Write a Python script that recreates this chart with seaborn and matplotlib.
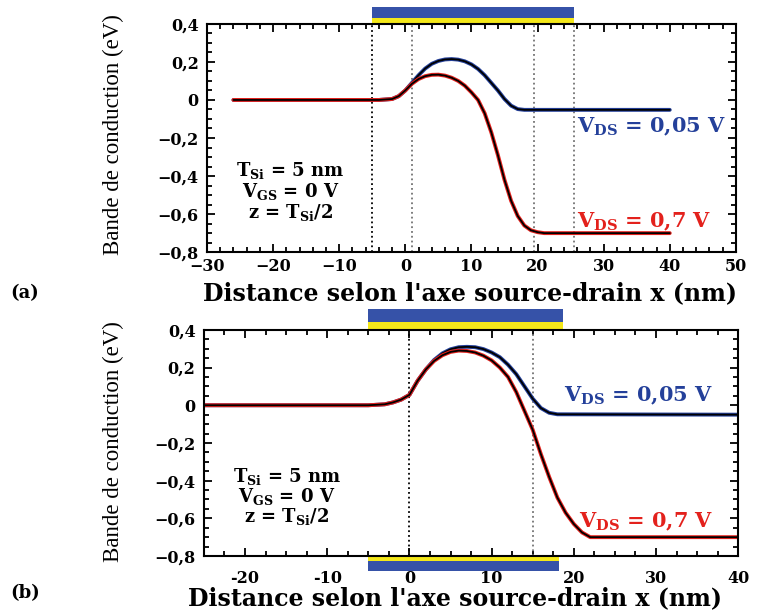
import numpy as np
import matplotlib
matplotlib.use("Agg")
import matplotlib.pyplot as plt
from matplotlib.patches import Rectangle
from matplotlib.ticker import MultipleLocator
import seaborn as sns

# panel (a) data
xa_low = [-26, -4, -2, -1, 0, 1, 2, 3, 4, 5, 6, 7, 8, 9, 10, 11, 12, 13, 14, 15, 16, 17, 18, 40]
ya_low = [0, 0, 0.005, 0.02, 0.05, 0.09, 0.13, 0.165, 0.19, 0.205, 0.213, 0.215, 0.212, 0.203,
          0.187, 0.163, 0.13, 0.09, 0.05, 0.005, -0.03, -0.048, -0.052, -0.052]
xa_high = [-26, -4, -2, -1, 0, 1, 2, 3, 4, 5, 6, 7, 8, 9, 10, 11, 12, 13, 14, 15, 16, 17, 18,
           19, 20, 21, 40]
ya_high = [0, 0, 0.005, 0.02, 0.05, 0.085, 0.11, 0.125, 0.132, 0.133, 0.128, 0.117, 0.1, 0.075,
           0.04, 0.0, -0.07, -0.17, -0.29, -0.42, -0.53, -0.61, -0.66, -0.685, -0.695, -0.70, -0.70]

# panel (b) data
xb_low = [-25, -5, -3, -2, -1, 0, 1, 2, 3, 4, 5, 6, 7, 8, 9, 10, 11, 12, 13, 14, 15, 16, 17, 18, 40]
yb_low = [0, 0, 0.005, 0.015, 0.03, 0.055, 0.13, 0.19, 0.24, 0.275, 0.297, 0.308, 0.31, 0.308,
          0.298, 0.28, 0.255, 0.215, 0.165, 0.1, 0.035, -0.015, -0.04, -0.048, -0.05]
xb_high = [-25, -5, -3, -2, -1, 0, 1, 2, 3, 4, 5, 6, 7, 8, 9, 10, 11, 12, 13, 14, 15, 16, 17, 18,
           19, 20, 21, 22, 40]
yb_high = [0, 0, 0.005, 0.015, 0.03, 0.055, 0.13, 0.19, 0.235, 0.265, 0.283, 0.29, 0.288, 0.28,
           0.263, 0.238, 0.2, 0.15, 0.07, -0.03, -0.13, -0.26, -0.38, -0.49, -0.57, -0.63, -0.675,
           -0.70, -0.70]

# ticks
yticks = [-0.8, -0.6, -0.4, -0.2, 0, 0.2, 0.4]
ytick_labels = ["\u22120,8", "\u22120,6", "\u22120,4", "\u22120,2", "0", "0,2", "0,4"]
xticks_a = [-30, -20, -10, 0, 10, 20, 30, 40, 50]
xtick_labels_a = ["\u221230", "\u221220", "\u221210", "0", "10", "20", "30", "40", "50"]
xticks_b = [-20, -10, 0, 10, 20, 30, 40]
xtick_labels_b = ["-20", "-10", "0", "10", "20", "30", "40"]

# gate regions and markers
gate_a = [-5, 25.5]
gate_b_top = [-5, 18.7]
gate_b_bot = [-5, 18.2]
vlines_a = [(-5, "black"), (1, "0.45"), (19.5, "0.45"), (25.5, "0.45")]
vlines_b = [(0, "black"), (15, "0.45")]

info_lines = [r"T$_{Si}$ = 5 nm", r"V$_{GS}$ = 0 V", r"z = T$_{Si}$/2"]
lbl_low = r"V$_{DS}$ = 0,05 V"
lbl_high = r"V$_{DS}$ = 0,7 V"

sns.set_style("ticks")
plt.rcParams["font.family"] = ["DejaVu Serif"]
plt.rcParams["text.color"] = "black"
plt.rcParams["axes.labelcolor"] = "black"
plt.rcParams["xtick.color"] = "black"
plt.rcParams["ytick.color"] = "black"
plt.rcParams["mathtext.fontset"] = "custom"
plt.rcParams["mathtext.rm"] = "DejaVu Serif:bold"
plt.rcParams["mathtext.it"] = "DejaVu Serif:bold"
plt.rcParams["mathtext.bf"] = "DejaVu Serif:bold"
plt.rcParams["mathtext.default"] = "rm"

BLUE = "#24409a"
RED = "#e3211c"
BAR_BLUE = "#3652a8"
BAR_YEL = "#f4e81a"

fig = plt.figure(figsize=(7.61, 6.12), dpi=100)
ax1 = fig.add_axes([0.272, 0.588, 0.695, 0.373])
ax2 = fig.add_axes([0.268, 0.0915, 0.702, 0.3695])


def style_axis(ax, xlim, xticks, xlabels, xminor, xpad):
    ax.set_xlim(*xlim)
    ax.set_ylim(-0.8, 0.4)
    ax.set_xticks(xticks)
    ax.set_xticklabels(xlabels)
    ax.set_yticks(yticks)
    ax.set_yticklabels(ytick_labels)
    ax.xaxis.set_minor_locator(MultipleLocator(xminor))
    ax.yaxis.set_minor_locator(MultipleLocator(0.05))
    ax.tick_params(which="both", direction="in", top=True, right=True, width=1.3,
                   colors="black", labelcolor="black")
    ax.tick_params(which="major", length=6)
    ax.tick_params(which="minor", length=3.5)
    ax.tick_params(axis="x", which="major", pad=xpad, labelsize=11.5)
    ax.tick_params(axis="y", which="major", pad=6, labelsize=11.5)
    for t in ax.get_xticklabels() + ax.get_yticklabels():
        t.set_fontweight("bold")
    for s in ax.spines.values():
        s.set_visible(True)
        s.set_linewidth(1.5)
        s.set_color("black")
    ax.set_xlabel("")
    ax.set_ylabel("")


def draw_curves(ax, x_low, y_low, x_high, y_high):
    sns.lineplot(x=x_low, y=y_low, ax=ax, color=BLUE, lw=2.8)
    sns.lineplot(x=x_low, y=y_low, ax=ax, color="black", lw=1.3)
    sns.lineplot(x=x_high, y=y_high, ax=ax, color=RED, lw=2.8)
    sns.lineplot(x=x_high, y=y_high, ax=ax, color="black", lw=1.3)


def gate_bar(ax, span, y0, h_yel, h_blue, up=True):
    tr = ax.get_xaxis_transform()
    w = span[1] - span[0]
    if up:
        ax.add_patch(Rectangle((span[0], y0), w, h_yel, transform=tr, color=BAR_YEL,
                               clip_on=False, lw=0))
        ax.add_patch(Rectangle((span[0], y0 + h_yel), w, h_blue, transform=tr, color=BAR_BLUE,
                               clip_on=False, lw=0))
    else:
        ax.add_patch(Rectangle((span[0], y0 - h_yel), w, h_yel, transform=tr, color=BAR_YEL,
                               clip_on=False, lw=0))
        ax.add_patch(Rectangle((span[0], y0 - h_yel - h_blue), w, h_blue, transform=tr,
                               color=BAR_BLUE, clip_on=False, lw=0))


# ---- panel (a)
for xv, c in vlines_a:
    ax1.axvline(xv, color=c, ls=":", lw=1.3)
draw_curves(ax1, xa_low, ya_low, xa_high, ya_high)
style_axis(ax1, (-30, 50), xticks_a, xtick_labels_a, 2, 4)
gate_bar(ax1, gate_a, 1.004, 0.022, 0.049)
for i, s in enumerate(info_lines):
    ax1.text(-17.4, -0.37 - 0.11 * i, s, ha="center", va="center", fontsize=13,
             fontweight="bold")
ax1.text(26, -0.14, lbl_low, color=BLUE, ha="left", va="center", fontsize=15, fontweight="bold")
ax1.text(26, -0.64, lbl_high, color=RED, ha="left", va="center", fontsize=15, fontweight="bold")

# ---- panel (b)
for xv, c in vlines_b:
    ax2.axvline(xv, color=c, ls=":", lw=1.3)
draw_curves(ax2, xb_low, yb_low, xb_high, yb_high)
style_axis(ax2, (-25, 40), xticks_b, xtick_labels_b, 2.5, 10)
gate_bar(ax2, gate_b_top, 1.004, 0.031, 0.058)
gate_bar(ax2, gate_b_bot, 0.0, 0.022, 0.044, up=False)
for i, s in enumerate(info_lines):
    ax2.text(-14.9, -0.38 - 0.105 * i, s, ha="center", va="center", fontsize=13,
             fontweight="bold")
ax2.text(18.8, 0.05, lbl_low, color=BLUE, ha="left", va="center", fontsize=15, fontweight="bold")
ax2.text(20.6, -0.62, lbl_high, color=RED, ha="left", va="center", fontsize=15, fontweight="bold")

# labels
xlab = "Distance selon l'axe source-drain x (nm)"
fig.text(0.618, 0.521, xlab, ha="center", va="center", fontsize=17, fontweight="bold")
fig.text(0.598, 0.023, xlab, ha="center", va="center", fontsize=17, fontweight="bold")
fig.text(0.149, 0.78, "Bande de conduction (eV)", rotation=90, ha="center", va="center",
         fontsize=16.5, family="Liberation Serif")
fig.text(0.149, 0.278, "Bande de conduction (eV)", rotation=90, ha="center", va="center",
         fontsize=16.5, family="Liberation Serif")
fig.text(0.013, 0.521, "(a)", ha="left", va="center", fontsize=13, fontweight="bold")
fig.text(0.013, 0.031, "(b)", ha="left", va="center", fontsize=13, fontweight="bold")

fig.savefig("out.png", dpi=100)
